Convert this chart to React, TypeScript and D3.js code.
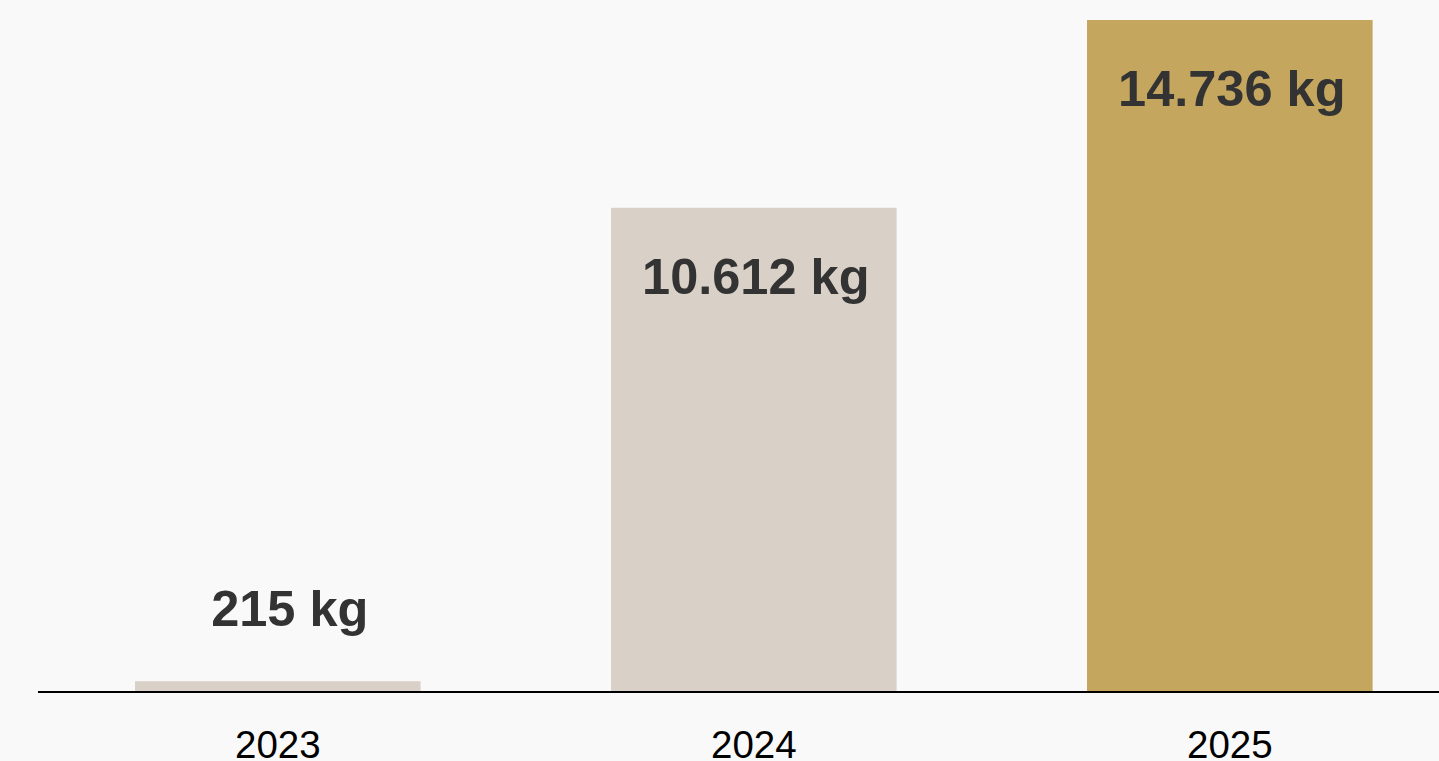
import React from "react";
import * as d3 from "d3";

const years = ["2023", "2024", "2025"];
const values = [215, 10612, 14736];
const labels = ["215 kg", "10.612 kg", "14.736 kg"];
const barColors = ["#d9d1c7", "#d9d1c7", "#c4a65e"];

const W = 1439;
const H = 761;

export default function App() {
  React.useEffect(() => {
    document.body.style.margin = "0";
    document.body.style.background = "#f9f9f9";
  }, []);

  const x = d3
    .scaleBand<string>()
    .domain(years)
    .range([39.8, 1467.8])
    .paddingInner(0.4)
    .paddingOuter(0.2);
  const y = d3.scaleLinear().domain([0, d3.max(values)!]).range([691, 20]);

  return (
    <div style={{ position: "absolute", left: 0, top: 0, width: W, height: H, background: "#f9f9f9" }}>
      <svg width={W} height={H} style={{ display: "block" }}>
        <rect x={0} y={0} width={W} height={H} fill="#f9f9f9" />
        {years.map((yr, i) => {
          const bx = x(yr)!;
          const top = y(values[i]);
          const h = y(0) - top;
          const inside = h > 100;
          const ly = inside ? top + 86 : top - 55;
          return (
            <g key={yr}>
              <rect x={bx} y={top} width={x.bandwidth()} height={h} fill={barColors[i]} />
              <text
                x={bx + x.bandwidth() / 2}
                dx={inside ? 2 : 12}
                y={ly}
                textAnchor="middle"
                fontFamily="'Liberation Sans', Arial, sans-serif"
                fontWeight="bold"
                fontSize={50.5}
                fill="#333333"
              >
                {labels[i]}
              </text>
              <text
                x={bx + x.bandwidth() / 2}
                y={758}
                textAnchor="middle"
                fontFamily="'Liberation Sans', Arial, sans-serif"
                fontSize={38.5}
                fill="#000"
              >
                {yr}
              </text>
            </g>
          );
        })}
        <line x1={38} x2={W} y1={692} y2={692} stroke="#000" strokeWidth={2} />
      </svg>
    </div>
  );
}
